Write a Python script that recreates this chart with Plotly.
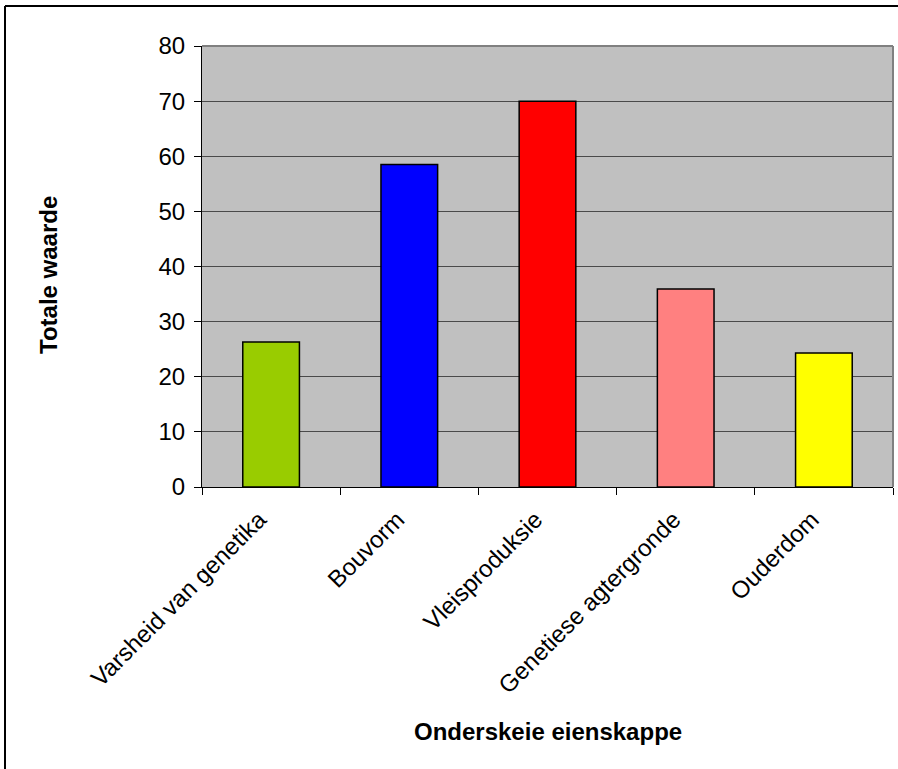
import plotly.graph_objects as go

# Scores per trait
categories = [
    "Varsheid van genetika",
    "Bouvorm",
    "Vleisproduksie",
    "Genetiese agtergronde",
    "Ouderdom",
]
values = [26.3, 58.5, 70.0, 35.9, 24.3]
bar_colors = ["#99CC00", "#0000FF", "#FF0000", "#FF8080", "#FFFF00"]
y_ticks = [0, 10, 20, 30, 40, 50, 60, 70, 80]

W, H = 898, 769
L, R, T, B = 202, 893, 46, 487  # plot area in pixels


def px(x):
    return (x - L) / (R - L)


def py(y):
    return (B - y) / (B - T)


fig = go.Figure(
    go.Bar(
        x=categories,
        y=values,
        marker=dict(color=bar_colors, line=dict(color="black", width=1.5)),
        width=0.41,
    )
)

font_family = "Liberation Sans, Arial, sans-serif"

fig.update_layout(
    width=W,
    height=H,
    margin=dict(l=L, r=W - R, t=T, b=H - B, pad=0),
    paper_bgcolor="white",
    plot_bgcolor="#C0C0C0",
    showlegend=False,
    font=dict(family=font_family, size=24, color="black"),
    xaxis=dict(
        tickangle=-45,
        ticks="outside",
        ticklen=7,
        tickcolor="black",
        tickson="boundaries",
        showline=True,
        linecolor="black",
        linewidth=1,
        showgrid=False,
        tickfont=dict(size=24),
        ticklabelstandoff=8,
        ticklabelshift=-12,
    ),
    yaxis=dict(
        range=[0, 80],
        tickvals=y_ticks,
        ticks="outside",
        ticklen=7,
        tickcolor="black",
        showline=True,
        linecolor="black",
        linewidth=1,
        showgrid=True,
        gridcolor="#4a4a4a",
        gridwidth=1,
        zeroline=False,
        tickfont=dict(size=24),
        ticklabelstandoff=4,
    ),
    shapes=[
        # gray border on top and right of the plot area
        dict(type="line", xref="paper", yref="paper", x0=0, x1=1, y0=1, y1=1,
             line=dict(color="#808080", width=2)),
        dict(type="line", xref="paper", yref="paper", x0=1, x1=1, y0=0, y1=1,
             line=dict(color="#808080", width=2)),
        # outer chart frame
        dict(type="line", xref="paper", yref="paper", x0=px(5), x1=px(905),
             y0=py(6), y1=py(6), line=dict(color="black", width=2)),
        dict(type="line", xref="paper", yref="paper", x0=px(5), x1=px(5),
             y0=py(6), y1=py(780), line=dict(color="black", width=2)),
    ],
    annotations=[
        dict(text="<b>Totale waarde</b>", xref="paper", yref="paper",
             x=px(48), y=py(275), textangle=-90, showarrow=False,
             xanchor="center", yanchor="middle", font=dict(size=24)),
        dict(text="<b>Onderskeie eienskappe</b>", xref="paper", yref="paper",
             x=px(548), y=py(731), showarrow=False,
             xanchor="center", yanchor="middle", font=dict(size=24)),
    ],
)

fig.write_html("out.html")
